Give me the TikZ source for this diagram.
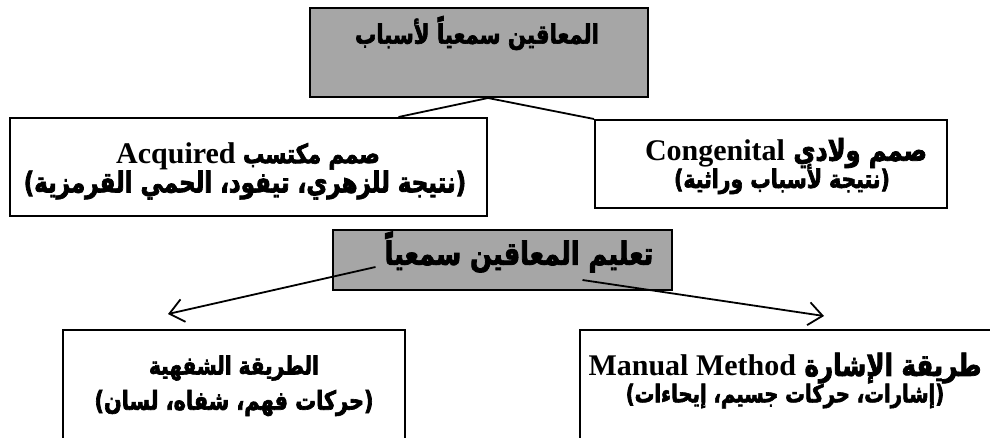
\documentclass[tikz,border=0pt]{standalone}
\usepackage{fontspec}
\setmainfont{Liberation Serif}
\newfontfamily\arabicfont[Script=Arabic,FakeStretch=0.8,BoldFeatures={FakeBold=2.5}]{DejaVu Sans}
\TeXXeTstate=1
\usetikzlibrary{arrows.meta,calc}
\newcommand\lasz{\fontsize{30}{34}\selectfont\rmfamily\bfseries}
\newcommand\arsz[1]{\fontsize{#1}{#1}\selectfont\arabicfont\bfseries}
\definecolor{boxgray}{HTML}{A6A6A6}
\tikzset{
  box/.style={draw=black, line width=2pt, rectangle, inner sep=0pt},
  graybox/.style={box, fill=boxgray},
  conn/.style={line width=1.8pt},
  arr/.style={line width=1.8pt, -{Straight Barb[length=14pt,width=23pt,line width=1.8pt]}},
  txt/.style={inner sep=0pt, anchor=center}
}
\begin{document}
\begin{tikzpicture}[x=1pt,y=-1pt]
\useasboundingbox (0,0) rectangle (990,437);
\clip (0,0) rectangle (990,437);
\fill[white] (0,0) rectangle (990,437);
% boxes
\node[graybox, minimum width=338pt, minimum height=89pt] (top) at (479,52.5) {};
\node[box, minimum width=477pt, minimum height=98pt] (lbox) at (248.5,167) {};
\node[box, minimum width=352pt, minimum height=88pt] (rbox) at (771,164) {};
\node[graybox, minimum width=339pt, minimum height=60pt] (mid) at (502.5,260) {};
\node[box, minimum width=342pt, minimum height=130pt] (blbox) at (234,395) {};
\node[box, minimum width=420pt, minimum height=130pt] (brbox) at (790,395) {};
% texts
\node[txt] (toptext) at (477,33) {\arsz{26.5}\beginR المعاقين سمعياً لأسباب\endR};
\node[txt] (l1) at (248,156) {\arsz{26.5}\beginR صمم مكتسب \beginL{\lasz Acquired}\endL\endR};
\node[txt] (l2) at (245,185) {\arsz{28.7}\beginR (نتيجة للزهري، تيفود، الحمي القرمزية)\endR};
\node[txt] (r1) at (786,153) {\arsz{30}\beginR صمم ولادي \beginL{\lasz Congenital}\endL\endR};
\node[txt] (r2) at (782,179) {\arsz{25.5}\beginR (نتيجة لأسباب وراثية)\endR};
\node[txt] (midtext) at (519,252) {\arsz{31.9}\beginR تعليم المعاقين سمعياً\endR};
\node[txt] (bl1) at (234,368) {\arsz{25}\beginR الطريقة الشفهية\endR};
\node[txt] (bl2) at (234,403) {\arsz{26}\beginR (حركات فهم، شفاه، لسان)\endR};
\node[txt] (br1) at (785,368) {\arsz{30.6}\beginR طريقة الإشارة \beginL{\lasz Manual Method}\endL\endR};
\node[txt] (br2) at (785,396) {\arsz{24.5}\beginR (إشارات، حركات جسيم، إيحاءات)\endR};
% connectors
\draw[conn] ($(top.south)+(9,0)$) -- ($(lbox.north)+(150,0)$);
\draw[conn] ($(top.south)+(9,0)$) -- (rbox.north west);
\coordinate (blend) at ($(blbox.north)+(-66,-15)$);
\coordinate (brend) at ($(brbox.north west)+(245,-13)$);
\draw[arr] ($(mid.center)+(-127,7)$) -- (blend);
\draw[arr] ($(mid.center)+(80,20)$) -- (brend);
\end{tikzpicture}
\end{document}
